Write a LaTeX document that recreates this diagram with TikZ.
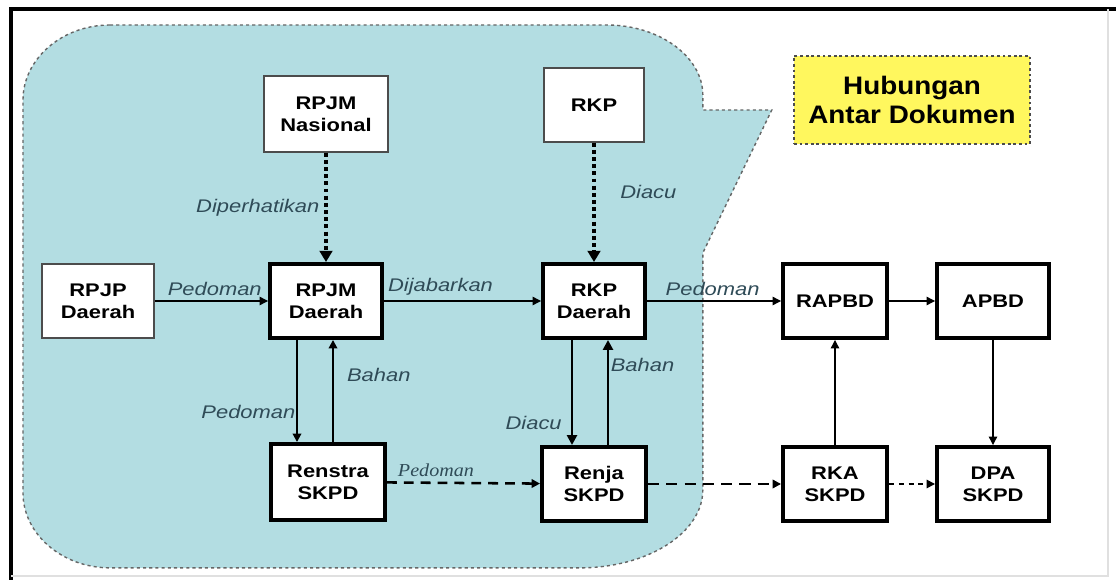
\documentclass[tikz,border=0pt]{standalone}
\usepackage{fontspec}
\setmainfont{Liberation Sans}[FakeStretch=1.2]
\newfontfamily\titlefont{Liberation Sans}[FakeStretch=1.1]
\newfontfamily\pedfont{Liberation Serif}[FakeStretch=1.1]
\usepackage{tikz}
\usetikzlibrary{arrows.meta}
\definecolor{calloutblue}{HTML}{B3DDE2}
\definecolor{lblgray}{HTML}{2F4B57}
\definecolor{notebg}{HTML}{FFF75E}

\begin{document}
\begin{tikzpicture}[
  docbox/.style={draw=black!70,line width=1pt,fill=white,align=center,inner sep=0pt,
    font=\fontsize{13}{15.5}\selectfont\bfseries},
  thickbox/.style={docbox,draw=black,line width=2.8pt},
  lbl/.style={font=\fontsize{13}{15}\selectfont\itshape,text=lblgray},
  arr/.style={-{Triangle[length=6pt,width=6pt]},line width=0.9pt},
  midarr/.style={-{Triangle[length=6pt,width=6pt]},line width=1.4pt},
  thkarr/.style={-{Triangle[length=7pt,width=7pt]},line width=2pt},
  dotarr/.style={-{Triangle[length=8pt,width=9pt]},line width=2.8pt,dash pattern=on 2.8pt off 2.3pt},
  dsharr/.style={-{Triangle[length=6pt,width=6pt]},line width=1.8pt,dash pattern=on 7pt off 5pt}
]
\useasboundingbox (0,0) rectangle (27.9,-14.5);
\draw[line width=2.2pt](0.275,-14.5)--(0.275,-0.225)--(27.9,-0.225);
\draw[black!12,line width=0.8pt](27.7,-0.225)--(27.7,-14.4)--(0.275,-14.4);

% callout
\begin{scope}[x=0.025cm,y=-0.025cm]
  \draw[fill=calloutblue,draw=black!60,line width=1pt,dash pattern=on 2.2pt off 2.2pt]
    (110,25)--(607,25) .. controls (660,25) and (703,57) .. (703,95)--(703,110)--(772,110)
    --(703,253)--(703,490) .. controls (703,533) and (648,568) .. (580,568)--(110,568)
    .. controls (62,568) and (23,534) .. (23,493)--(23,100) .. controls (23,59) and (62,25) .. (110,25);
\end{scope}

\node[draw=black!70,line width=1pt,dash pattern=on 2pt off 2pt,fill=notebg,align=center,
  minimum width=5.9cm,minimum height=2.2cm,inner sep=0pt,
  font=\titlefont\fontsize{18}{21}\selectfont\bfseries] (judul) at (22.8,-2.5) {Hubungan\\Antar Dokumen};

\node[docbox,minimum width=3.1cm,minimum height=1.9cm] (rpjmnas) at (8.15,-2.85) {RPJM\\Nasional};
\node[docbox,minimum width=2.5cm,minimum height=1.85cm] (rkp) at (14.85,-2.625) {RKP};
\node[docbox,minimum width=2.8cm,minimum height=1.85cm] (rpjp) at (2.45,-7.525) {RPJP\\Daerah};
\node[thickbox,minimum width=2.8cm,minimum height=1.85cm] (rpjmd) at (8.15,-7.525) {RPJM\\Daerah};
\node[thickbox,minimum width=2.55cm,minimum height=1.85cm] (rkpd) at (14.85,-7.525) {RKP\\Daerah};
\node[thickbox,minimum width=2.6cm,minimum height=1.85cm] (rapbd) at (20.875,-7.525) {RAPBD};
\node[thickbox,minimum width=2.8cm,minimum height=1.85cm] (apbd) at (24.825,-7.525) {APBD};
\node[thickbox,minimum width=2.85cm,minimum height=1.9cm] (renstra) at (8.2,-12.05) {Renstra\\SKPD};
\node[thickbox,minimum width=2.6cm,minimum height=1.85cm] (renja) at (14.85,-12.1) {Renja\\SKPD};
\node[thickbox,minimum width=2.6cm,minimum height=1.85cm] (rka) at (20.875,-12.1) {RKA\\SKPD};
\node[thickbox,minimum width=2.8cm,minimum height=1.85cm] (dpa) at (24.825,-12.1) {DPA\\SKPD};

\draw[dotarr](rpjmnas)--(rpjmd) node[lbl,left,pos=0.5]{Diperhatikan};
\draw[dotarr](rkp)--(rkpd) node[lbl,right=14pt,pos=0.41]{Diacu};
\draw[arr](rpjp)--(rpjmd) node[lbl,above,pos=0.53]{Pedoman};
\draw[arr](rpjmd)--(rkpd) node[lbl,above,pos=0.36]{Dijabarkan};
\draw[arr](rkpd)--(rapbd) node[lbl,above,pos=0.49]{Pedoman};
\draw[arr](rapbd)--(apbd);
\draw[midarr](rpjmd.south -| 7.425,0)--(renstra.north -| 7.425,0) node[lbl,left,inner sep=0.5pt,pos=0.71]{Pedoman};
\draw[midarr](renstra.north -| 8.325,0)--(rpjmd.south -| 8.325,0) node[lbl,right=6pt,pos=0.66]{Bahan};
\draw[thkarr](rkpd.south -| 14.3,0)--(renja.north -| 14.3,0) node[lbl,left=3pt,pos=0.79]{Diacu};
\draw[thkarr](renja.north -| 15.2,0)--(rkpd.south -| 15.2,0) node[lbl,right,inner sep=1pt,pos=0.76]{Bahan};
\draw[dsharr](renstra)--(renja) node[above,pos=0.32,text=lblgray,font=\pedfont\fontsize{13}{15}\selectfont\itshape]{Pedoman};
\draw[dsharr,dash pattern=on 8pt off 5pt](renja)--(rka);
\draw[arr](rka)--(rapbd);
\draw[arr](apbd)--(dpa);
\draw[arr,line width=1.2pt,dash pattern=on 3.5pt off 3.5pt](rka)--(dpa);
\end{tikzpicture}
\end{document}
